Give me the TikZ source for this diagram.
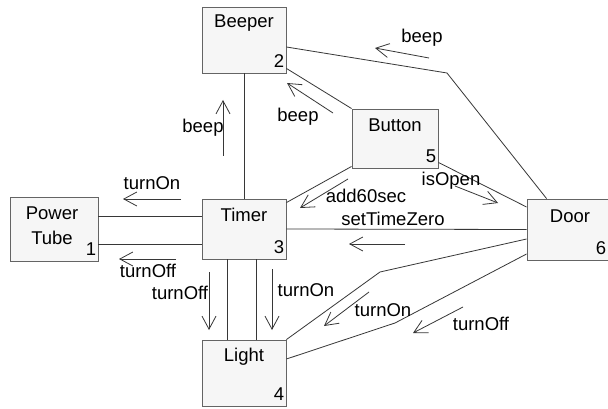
\documentclass[tikz,border=0pt]{standalone}
\usepackage{fontspec}
\setmainfont{Liberation Sans}
\usetikzlibrary{arrows.meta,calc}
\definecolor{boxfill}{RGB}{246,246,246}
\definecolor{boxline}{RGB}{100,100,100}
\definecolor{wire}{RGB}{55,55,55}
\tikzset{
  objbox/.style={draw=boxline, fill=boxfill, line width=0.9pt, rectangle, inner sep=0pt},
  objname/.style={anchor=center, inner sep=0pt, font=\fontsize{18.5}{25}\selectfont},
  objnum/.style={anchor=base east, inner sep=0pt, xshift=-2pt, yshift=6pt, font=\fontsize{18.5}{22}\selectfont},
  link/.style={draw=wire, line width=0.8pt},
  msg/.style={draw=wire, line width=0.8pt, -{Straight Barb[length=13pt,width=14pt]}},
  msglabel/.style={inner sep=0pt, anchor=center, font=\fontsize{18.5}{22}\selectfont}
}
\begin{document}
\begin{tikzpicture}[x=1pt,y=-1pt]
\useasboundingbox (0,0) rectangle (608,409);
\fill[white] (0,0) rectangle (608,409);

% boxes
\node[objbox, minimum width=88pt, minimum height=64pt] (pt) at (54,229) {};
\node[objbox, minimum width=84pt, minimum height=66pt] (beeper) at (244,40) {};
\node[objbox, minimum width=84pt, minimum height=60pt] (timer) at (244,229) {};
\node[objbox, minimum width=84pt, minimum height=66pt] (light) at (244,373) {};
\node[objbox, minimum width=86pt, minimum height=59pt] (button) at (395,138.5) {};
\node[objbox, minimum width=86pt, minimum height=61pt] (door) at (570,229.5) {};

% names
\node[objname, align=center] (ptname) at (52,226) {Power\\Tube};
\node[objname] (beepername) at (244,23) {Beeper};
\node[objname] (timername) at (244,215) {Timer};
\node[objname] (lightname) at (244,357) {Light};
\node[objname] (buttonname) at (395,125) {Button};
\node[objname] (doorname) at (570,216) {Door};

% numbers
\node[objnum] (ptnum) at (pt.south east) {1};
\node[objnum] (beepernum) at (beeper.south east) {2};
\node[objnum] (timernum) at (timer.south east) {3};
\node[objnum] (lightnum) at (light.south east) {4};
\node[objnum] (buttonnum) at (button.south east) {5};
\node[objnum, xshift=-5pt] (doornum) at (door.south east) {6};

% links
\draw[link] (beeper.south) -- (timer.north);
\draw[link] ([yshift=-7pt]beeper.east) -- (447,73) -- ($(door.north west)+(20,0)$);
\draw[link] ([yshift=5pt]beeper.south east) -- (button.north west);
\draw[link] ([yshift=2pt]button.south west) -- ([yshift=-4pt]timer.north east);
\draw[link] ([yshift=6pt]button.south east) -- (door.west |- 0,207);
\draw[link] (timer.east) -- (door.west);
\draw[link] (pt.east |- 0,216) -- (timer.west |- 0,216);
\draw[link] (pt.east |- 0,244) -- (timer.west |- 0,244);
\draw[link] (timer.south -| 227,0) -- (light.north -| 227,0);
\draw[link] (timer.south -| 256,0) -- (light.north -| 256,0);
\draw[link] (light.north east) -- (380,272) -- (door.west |- 0,239);
\draw[link] (light.east |- 0,359) -- (395,323) -- (door.west |- 0,254);

% messages
\draw[msg] (429,58) -- (375,48);
\node[msglabel] (l1) at (422,38) {beep};
\draw[msg] (333,113) -- (287,83);
\node[msglabel] (l2) at (298,117) {beep};
\draw[msg] (223,156) -- (223,100);
\node[msglabel] (l3) at (203,128) {beep};
\draw[msg] (181,199) -- (123,199);
\node[msglabel] (l4) at (152,183) {turnOn};
\draw[msg] (176,259) -- (119,259);
\node[msglabel] (l5) at (148,271) {turnOff};
\draw[msg] (209,272) -- (209,330);
\node[msglabel] (l6) at (180,293) {turnOff};
\draw[msg] (272,269) -- (272,330);
\node[msglabel] (l7) at (306,290) {turnOn};
\draw[msg] (369,292) -- (324,326);
\node[msglabel] (l8) at (383,310) {turnOn};
\draw[msg] (463,307) -- (413,333);
\node[msglabel] (l9) at (481,324) {turnOff};
\draw[msg] (348,179) -- (300,208);
\node[msglabel] (l10) at (366,196) {add60sec};
\draw[msg] (455,186) -- (498,203);
\node[msglabel] (l11) at (451,181) {isOpen};
\draw[msg] (405,244) -- (349,244);
\node[msglabel] (l12) at (393,219) {setTimeZero};
\end{tikzpicture}
\end{document}
